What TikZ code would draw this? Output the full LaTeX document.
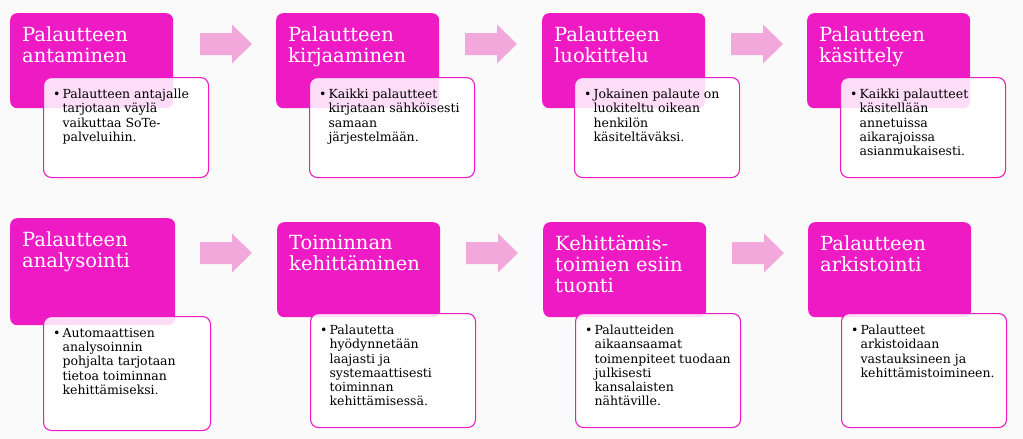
\documentclass[tikz,border=0pt]{standalone}
\usepackage{fontspec}
\setmainfont{DejaVu Serif}
\usepackage{tikz}

\definecolor{vari}{RGB}{238,26,196}
\definecolor{nuolivari}{RGB}{243,168,220}
\definecolor{tausta}{RGB}{250,250,250}

\newcommand{\kohta}[1]{\textbullet\hspace{2pt}\parbox[t]{150pt}{#1}}

\tikzset{
  nuoli/.pic={\fill[nuolivari] (0,-11) -- (32,-11) -- (32,-19.5) -- (52,0) -- (32,19.5) -- (32,11) -- (0,11) -- cycle;}
}

\begin{document}
\begin{tikzpicture}[x=1pt, y=-1pt,
    kori/.style={rectangle, rounded corners=7pt, fill=vari, anchor=north west,
      minimum width=163pt, minimum height=95pt, inner sep=0pt},
    otsikko/.style={anchor=north west, inner xsep=12pt, inner ysep=13pt, align=left,
      text=white, font=\fontsize{19.5}{21}\selectfont},
    laatikko/.style={rectangle, rounded corners=8pt, draw=vari, line width=1.1pt,
      fill=white, fill opacity=0.85, text opacity=1, anchor=north west,
      minimum width=165pt, minimum height=100pt, inner sep=0pt},
    teksti/.style={anchor=north west, inner xsep=10pt, inner ysep=12pt,
      text=black, font=\fontsize{12.5}{14.2}\selectfont}]
    \useasboundingbox (0,0) rectangle (1023,439);
    \fill[tausta] (0,0) rectangle (1023,439);

    % ylarivi
    \node[kori] (k1) at (10,13) {};
    \node[kori] (k2) at (276,13) {};
    \node[kori] (k3) at (542,13) {};
    \node[kori] (k4) at (807,13) {};
    \node[otsikko] (o1) at (k1.north west) {Palautteen\\antaminen};
    \node[otsikko] (o2) at (k2.north west) {Palautteen\\kirjaaminen};
    \node[otsikko] (o3) at (k3.north west) {Palautteen\\luokittelu};
    \node[otsikko] (o4) at (k4.north west) {Palautteen\\käsittely};

    \node[laatikko] (l1) at (43,77) {};
    \node[laatikko] (l2) at (309,77) {};
    \node[laatikko] (l3) at (574,77) {};
    \node[laatikko] (l4) at (840,77) {};
    \node[teksti] (t1) at (l1.north west) {\kohta{Palautteen antajalle\\tarjotaan väylä\\vaikuttaa SoTe-\\palveluihin.}};
    \node[teksti] (t2) at (l2.north west) {\kohta{Kaikki palautteet\\kirjataan sähköisesti\\samaan\\järjestelmään.}};
    \node[teksti] (t3) at (l3.north west) {\kohta{Jokainen palaute on\\luokiteltu oikean\\henkilön\\käsiteltäväksi.}};
    \node[teksti] (t4) at (l4.north west) {\kohta{Kaikki palautteet\\käsitellään\\annetuissa\\aikarajoissa\\asianmukaisesti.}};

    \pic at (200,44) {nuoli};
    \pic at (465,44) {nuoli};
    \pic at (731,44) {nuoli};

    % alarivi
    \node[kori, minimum width=165pt, minimum height=107pt] (k5) at (10,218) {};
    \node[kori] (k6) at (277,222) {};
    \node[kori] (k7) at (543,222) {};
    \node[kori] (k8) at (808,222) {};
    \node[otsikko] (o5) at (k5.north west) {Palautteen\\analysointi};
    \node[otsikko] (o6) at (k6.north west) {Toiminnan\\kehittäminen};
    \node[otsikko] (o7) at (k7.north west) {Kehittämis-\\toimien esiin\\tuonti};
    \node[otsikko] (o8) at (k8.north west) {Palautteen\\arkistointi};

    \node[laatikko, minimum width=167pt, minimum height=114pt] (l5) at (43,316) {};
    \node[laatikko, minimum height=114pt] (l6) at (310,313) {};
    \node[laatikko, minimum height=114pt] (l7) at (575,313) {};
    \node[laatikko, minimum height=114pt] (l8) at (841,313) {};
    \node[teksti] (t5) at (l5.north west) {\kohta{Automaattisen\\analysoinnin\\pohjalta tarjotaan\\tietoa toiminnan\\kehittämiseksi.}};
    \node[teksti] (t6) at (l6.north west) {\kohta{Palautetta\\hyödynnetään\\laajasti ja\\systemaattisesti\\toiminnan\\kehittämisessä.}};
    \node[teksti] (t7) at (l7.north west) {\kohta{Palautteiden\\aikaansaamat\\toimenpiteet tuodaan\\julkisesti\\kansalaisten\\nähtäville.}};
    \node[teksti] (t8) at (l8.north west) {\kohta{Palautteet\\arkistoidaan\\vastauksineen ja\\kehittämistoimineen.}};

    \pic at (200,253) {nuoli};
    \pic at (466,253) {nuoli};
    \pic at (732,253) {nuoli};
\end{tikzpicture}
\end{document}
